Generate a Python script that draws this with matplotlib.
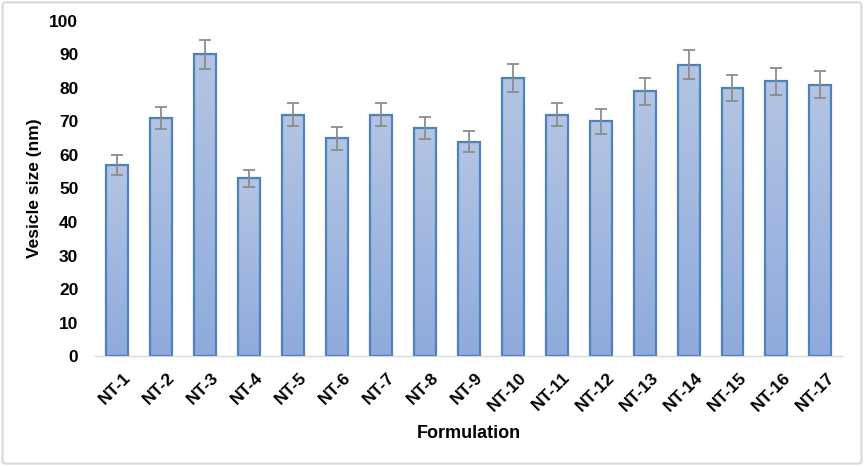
import matplotlib
matplotlib.use("Agg")
import matplotlib.pyplot as plt
import matplotlib.transforms as mtransforms
import numpy as np
from matplotlib.patches import FancyBboxPatch
from matplotlib.colors import LinearSegmentedColormap

categories = ["NT-1", "NT-2", "NT-3", "NT-4", "NT-5", "NT-6", "NT-7", "NT-8", "NT-9",
              "NT-10", "NT-11", "NT-12", "NT-13", "NT-14", "NT-15", "NT-16", "NT-17"]
values = [57, 71, 90, 53, 72, 65, 72, 68, 64, 83, 72, 70, 79, 87, 80, 82, 81]
errors = [3.0, 3.3, 4.4, 2.5, 3.4, 3.4, 3.4, 3.3, 3.1, 4.3, 3.4, 3.6, 4.0, 4.2, 4.0, 4.0, 4.0]
yticks = [0, 10, 20, 30, 40, 50, 60, 70, 80, 90, 100]

plt.rcParams['font.family'] = ['Liberation Sans', 'DejaVu Sans']

fig = plt.figure(figsize=(8.64, 4.66), dpi=100)
ax = fig.add_axes([0.110, 0.236, 0.865, 0.719])

x = np.arange(len(categories))
bars = ax.bar(x, values, width=0.5, color='none', edgecolor='#4f81bd', linewidth=1.6, zorder=3)

cmap = LinearSegmentedColormap.from_list('g', ['#8faadc', '#b3c5e3'])
grad = np.linspace(0, 1, 256).reshape(-1, 1)
for b in bars:
    x0, y0 = b.get_x(), b.get_y()
    w, h = b.get_width(), b.get_height()
    im = ax.imshow(grad, cmap=cmap, aspect='auto', origin='lower',
                   extent=[x0, x0 + w, y0, y0 + h], zorder=2)
    im.set_clip_path(b)

ax.errorbar(x, values, yerr=errors, fmt='none', ecolor='#8c8c8c', elinewidth=1.3,
            capsize=4, capthick=1.3, zorder=4)

ax.set_xlim(-0.5, len(categories) - 0.5)
ax.set_ylim(0, 100)
ax.set_yticks(yticks)
ax.set_yticklabels([str(t) for t in yticks], fontsize=12.5, fontweight='bold')
ax.set_xticks(x)
ax.set_xticklabels(categories, rotation=45, ha='right', rotation_mode='anchor',
                   fontsize=12.5, fontweight='bold')
ax.tick_params(axis='both', length=0)
ax.tick_params(axis='x', pad=10)
ax.tick_params(axis='y', pad=12)

offset = mtransforms.ScaledTranslation(6 / 100, 0, fig.dpi_scale_trans)
for lab in ax.get_xticklabels():
    lab.set_transform(lab.get_transform() + offset)

for s in ['top', 'right', 'left']:
    ax.spines[s].set_visible(False)
ax.spines['bottom'].set_color('#d9d9d9')
ax.spines['bottom'].set_linewidth(1.0)

ax.set_ylabel('Vesicle size (nm)', fontsize=12.5, fontweight='bold', labelpad=5)
ax.set_xlabel('Formulation', fontsize=13, fontweight='bold', labelpad=8)

border = FancyBboxPatch((0.003, 0.005), 0.994, 0.99, boxstyle='round,pad=0,rounding_size=0.005',
                        transform=fig.transFigure, fill=False, edgecolor='#d9d9d9', linewidth=1.5)
fig.patches.append(border)

fig.savefig('out.png', dpi=100)
